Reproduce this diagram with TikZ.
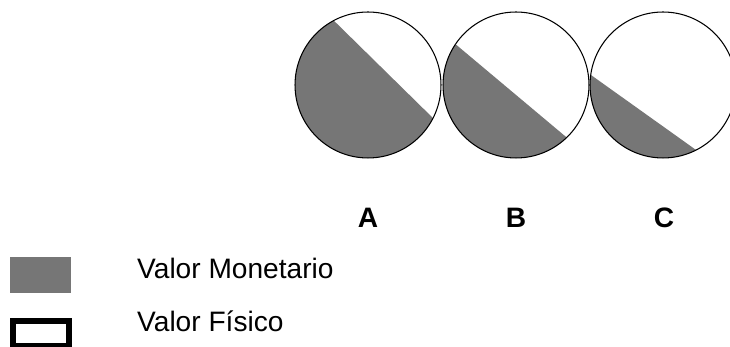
\documentclass[tikz,border=0pt]{standalone}
\usepackage{fontspec}
\setmainfont{Liberation Sans}
\usepackage{tikz}
\usetikzlibrary{calc}
\definecolor{moneygray}{RGB}{118,118,118}

\begin{document}
\begin{tikzpicture}[x=0.02cm,y=0.02cm,font=\fontsize{16}{18}\selectfont,
  ring/.style={draw,circle,line width=0.6pt,minimum size=2.92cm,inner sep=0pt},
  money/.style={fill=moneygray},
  letter/.style={anchor=base,font=\fontsize{16}{18}\selectfont\bfseries},
  legtext/.style={anchor=base west}]
\useasboundingbox (0,0) rectangle (730,347);
\clip (0,0) rectangle (730,347);
% share of each circle that is monetary value
\coordinate (cA) at (368,262);
\coordinate (cB) at (516,262);
\coordinate (cC) at (663,262);
\fill[money] ($(cA)+(118:73)$) arc[start angle=118,end angle=333,radius=73] -- cycle;
\fill[money] ($(cB)+(146:73)$) arc[start angle=146,end angle=314,radius=73] -- cycle;
\fill[money] ($(cC)+(172:73)$) arc[start angle=172,end angle=297,radius=73] -- cycle;
\node[ring] (ringA) at (cA) {};
\node[ring] (ringB) at (cB) {};
\node[ring] (ringC) at (cC) {};
\node[letter] (labA) at (368,119) {A};
\node[letter] (labB) at (516,119) {B};
\node[letter] (labC) at (664,119) {C};
% legend
\fill[money] (10,54) rectangle (71,90);
\draw[line width=0.12cm] (13,1) rectangle (69,26);
\node[legtext] (monetario) at (131,68) {Valor Monetario};
\node[legtext] (fisico) at (131,15) {Valor Físico};
\end{tikzpicture}
\end{document}
